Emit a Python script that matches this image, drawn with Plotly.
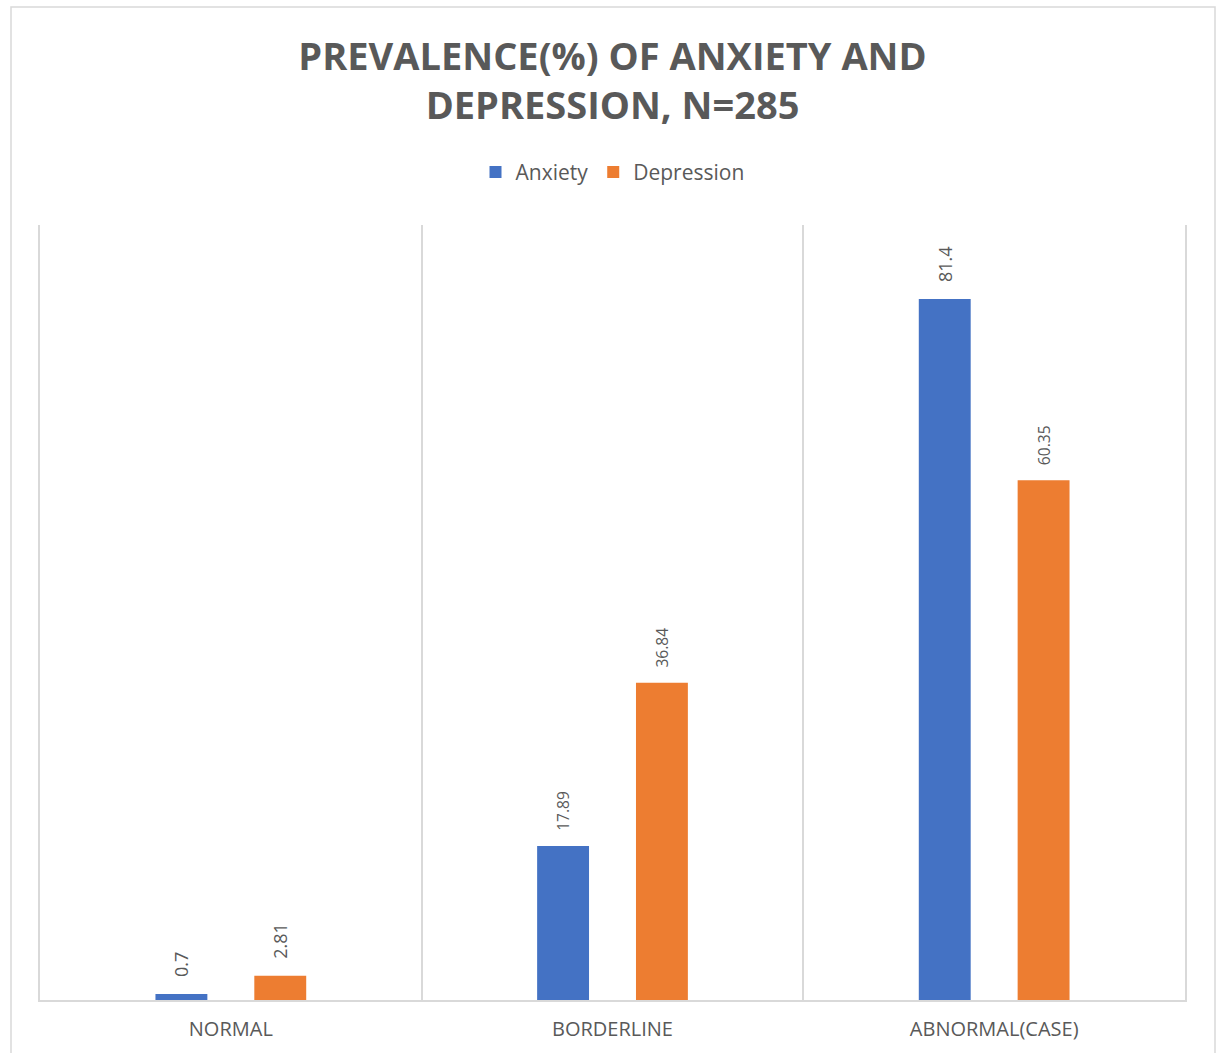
import plotly.graph_objects as go

categories = ["NORMAL", "BORDERLINE", "ABNORMAL(CASE)"]
anxiety = [0.7, 17.89, 81.4]
depression = [2.81, 36.84, 60.35]
series_names = ["Anxiety", "Depression"]
title_text = "PREVALENCE(%) OF ANXIETY AND<br>DEPRESSION, N=285"

BLUE = "#4472C4"
ORANGE = "#ED7D31"
GRAY = "#595959"
GRID = "#d9d9d9"
pad = "\u00a0\u00a0\u00a0"

fig = go.Figure()
for name, vals, col in [(series_names[0], anxiety, BLUE), (series_names[1], depression, ORANGE)]:
    fig.add_trace(go.Bar(
        x=categories, y=vals, name=name,
        marker=dict(color=col, line=dict(width=0)),
        text=[pad + str(v) for v in vals],
        textposition="outside", textangle=-90,
        textfont=dict(family="Open Sans", size=18, color=GRAY),
        cliponaxis=False,
    ))

fig.update_layout(
    width=1217, height=1053,
    margin=dict(l=40, r=32, t=225, b=53),
    paper_bgcolor="white", plot_bgcolor="white",
    barmode="group", bargap=0.482, bargroupgap=0.475,
    title=dict(text=title_text, x=0.5, xref="paper", xanchor="center",
               y=1 - 70 / 1053, yref="container", yanchor="middle",
               font=dict(family="Open Sans", size=38, color=GRAY, weight="bold")),
    legend=dict(orientation="h", x=0.5, xanchor="center", y=1.068, yanchor="middle",
                font=dict(family="Open Sans", size=21, color=GRAY),
                itemwidth=30, traceorder="normal"),
    font=dict(family="Open Sans", color=GRAY),
    showlegend=True,
)
fig.update_xaxes(
    type="category", tickson="boundaries", showgrid=True, gridcolor=GRID, gridwidth=1.5,
    showline=True, linecolor=GRID, linewidth=1.5, ticks="",
    tickfont=dict(family="Open Sans", size=20, color=GRAY),
    ticklabelstandoff=10,
    range=[-0.5, 2.5],
)
fig.update_yaxes(range=[0, 90], showgrid=False, showticklabels=False, zeroline=False,
                 showline=True, mirror=True, linecolor=GRID, linewidth=1.5)

fig.add_shape(type="rect", xref="paper", yref="paper",
              x0=(11 - 40) / 1145, x1=(1215 - 40) / 1145,
              y0=(1000 - 1070) / 775, y1=(1000 - 7) / 775,
              line=dict(color=GRID, width=1.5), fillcolor="rgba(0,0,0,0)", layer="below")

fig.write_html("out.html")
